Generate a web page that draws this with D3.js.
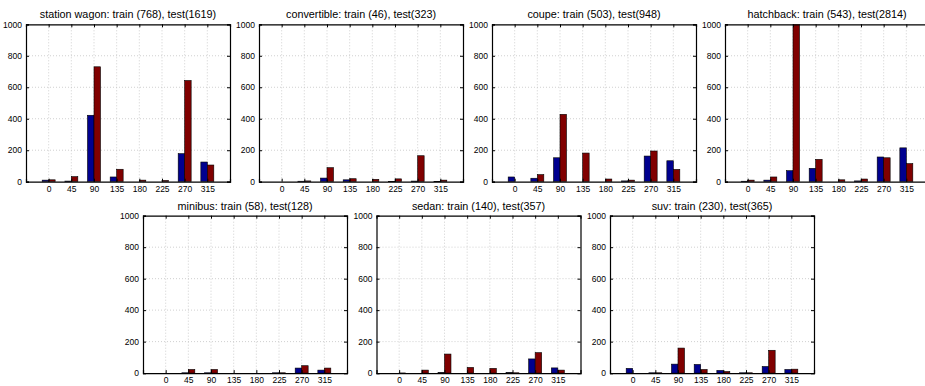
<!DOCTYPE html>
<html>
<head>
<meta charset="utf-8">
<script src="https://cdn.jsdelivr.net/npm/d3@7"></script>
<style>
	body { margin: 0; background: #fff; }
	text { font-family: "Liberation Sans", Arial, sans-serif; }
	.grid line { stroke: #c4c4c4; stroke-width: 0.8; stroke-dasharray: 1,2; }
	.axis path, .axis line { stroke: #000; }
	.axis text { font-size: 8.5px; fill: #000; }
</style>
</head>
<body>
<div id="chart"></div>
<script>
// viewpoint histograms per class
///

const angles = [0, 45, 90, 135, 180, 225, 270, 315];
const yTicks = [0, 200, 400, 600, 800, 1000];

const classNames = ['station wagon', 'convertible', 'coupe', 'hatchback', 'minibus', 'sedan', 'suv'];
const trainTotals = [768, 46, 503, 543, 58, 140, 230];
const testTotals = [1619, 323, 948, 2814, 128, 357, 365];

const wagonTrain = [10, 4, 422, 30, 0, 0, 178, 125];
const wagonTest = [12, 32, 730, 79, 10, 8, 643, 106];
const convertibleTrain = [0, 3, 23, 12, 0, 2, 4, 2];
const convertibleTest = [0, 5, 89, 19, 15, 18, 165, 10];
const coupeTrain = [30, 22, 152, 0, 0, 5, 163, 133];
const coupeTest = [0, 45, 428, 182, 17, 10, 195, 78];
const hatchbackTrain = [3, 10, 70, 85, 0, 5, 157, 215];
const hatchbackTest = [10, 30, 2340, 142, 12, 17, 152, 115];
const minibusTrain = [0, 2, 2, 0, 0, 2, 32, 19];
const minibusTest = [0, 23, 23, 0, 0, 2, 47, 32];
const sedanTrain = [0, 0, 3, 0, 0, 3, 90, 33];
const sedanTest = [1, 19, 121, 36, 30, 2, 130, 19];
const suvTrain = [30, 2, 57, 55, 17, 2, 42, 23];
const suvTest = [0, 2, 159, 23, 10, 2, 145, 25];

const trainSeries = [wagonTrain, convertibleTrain, coupeTrain, hatchbackTrain, minibusTrain, sedanTrain, suvTrain];
const testSeries = [wagonTest, convertibleTest, coupeTest, hatchbackTest, minibusTest, sedanTest, suvTest];

const W = 925, H = 386;
const pw = 204, ph = 157.4;
// panel origins (left, top)
const origins = [[26, 24.3], [259, 24.3], [492, 24.3], [725, 24.3], [143, 215.7], [376.5, 215.7], [610, 215.7]];
const colors = ['#00008f', '#800000'];
const barW = 0.286;

let svg = d3.select('#chart').append('svg')
	.attr('width', W)
	.attr('height', H);

classNames.forEach(function(name, i) {
	let ox = origins[i][0], oy = origins[i][1];
	let g = svg.append('g').attr('transform', 'translate(' + ox + ',' + oy + ')');

	let x = d3.scaleLinear().domain([0, 9]).range([0, pw]);
	let y = d3.scaleLinear().domain([0, 1000]).range([ph, 0]);

	g.append('clipPath').attr('id', 'clip' + i)
		.append('rect').attr('width', pw).attr('height', ph);

	// grid
	let grid = g.append('g').attr('class', 'grid');
	grid.selectAll('.gx').data(angles).enter().append('line')
		.attr('x1', (d, k) => x(k + 1)).attr('x2', (d, k) => x(k + 1))
		.attr('y1', 0).attr('y2', ph);
	grid.selectAll('.gy').data(yTicks.slice(1, -1)).enter().append('line')
		.attr('x1', 0).attr('x2', pw)
		.attr('y1', d => y(d)).attr('y2', d => y(d));

	// bars
	let bars = g.append('g').attr('clip-path', 'url(#clip' + i + ')');
	[trainSeries[i], testSeries[i]].forEach(function(vals, s) {
		bars.selectAll('.b' + s).data(vals).enter().append('rect')
			.attr('x', (d, k) => x(k + 1 + (s - 1) * barW))
			.attr('width', x(barW) - x(0))
			.attr('y', d => y(Math.min(d, 1100)))
			.attr('height', d => y(0) - y(Math.min(d, 1100)))
			.attr('fill', colors[s])
			.attr('stroke', '#000')
			.attr('stroke-width', 0.6)
			.style('display', d => d > 0 ? null : 'none');
	});

	// axes
	let xAxis = d3.axisBottom(x).tickValues(d3.range(1, 9))
		.tickFormat((d) => angles[d - 1]).tickSize(-3).tickPadding(4);
	let yAxis = d3.axisLeft(y).tickValues(yTicks).tickFormat(d3.format('d')).tickSize(-3).tickPadding(4);

	g.append('g').attr('class', 'axis').attr('transform', 'translate(0,' + ph + ')').call(xAxis);
	g.append('g').attr('class', 'axis').call(yAxis);
	g.append('g').attr('class', 'axis').call(d3.axisTop(x).tickValues(d3.range(1, 9)).tickFormat('').tickSize(-3));
	g.append('g').attr('class', 'axis').attr('transform', 'translate(' + pw + ',0)')
		.call(d3.axisRight(y).tickValues(yTicks).tickFormat('').tickSize(-3));
	g.selectAll('.axis path.domain').attr('stroke-width', 1.2);

	// title
	g.append('text')
		.attr('x', pw / 2)
		.attr('y', -6)
		.attr('text-anchor', 'middle')
		.attr('font-size', '10.8px')
		.text(name + ': train (' + trainTotals[i] + '), test(' + testTotals[i] + ')');
});
</script>
</body>
</html>
